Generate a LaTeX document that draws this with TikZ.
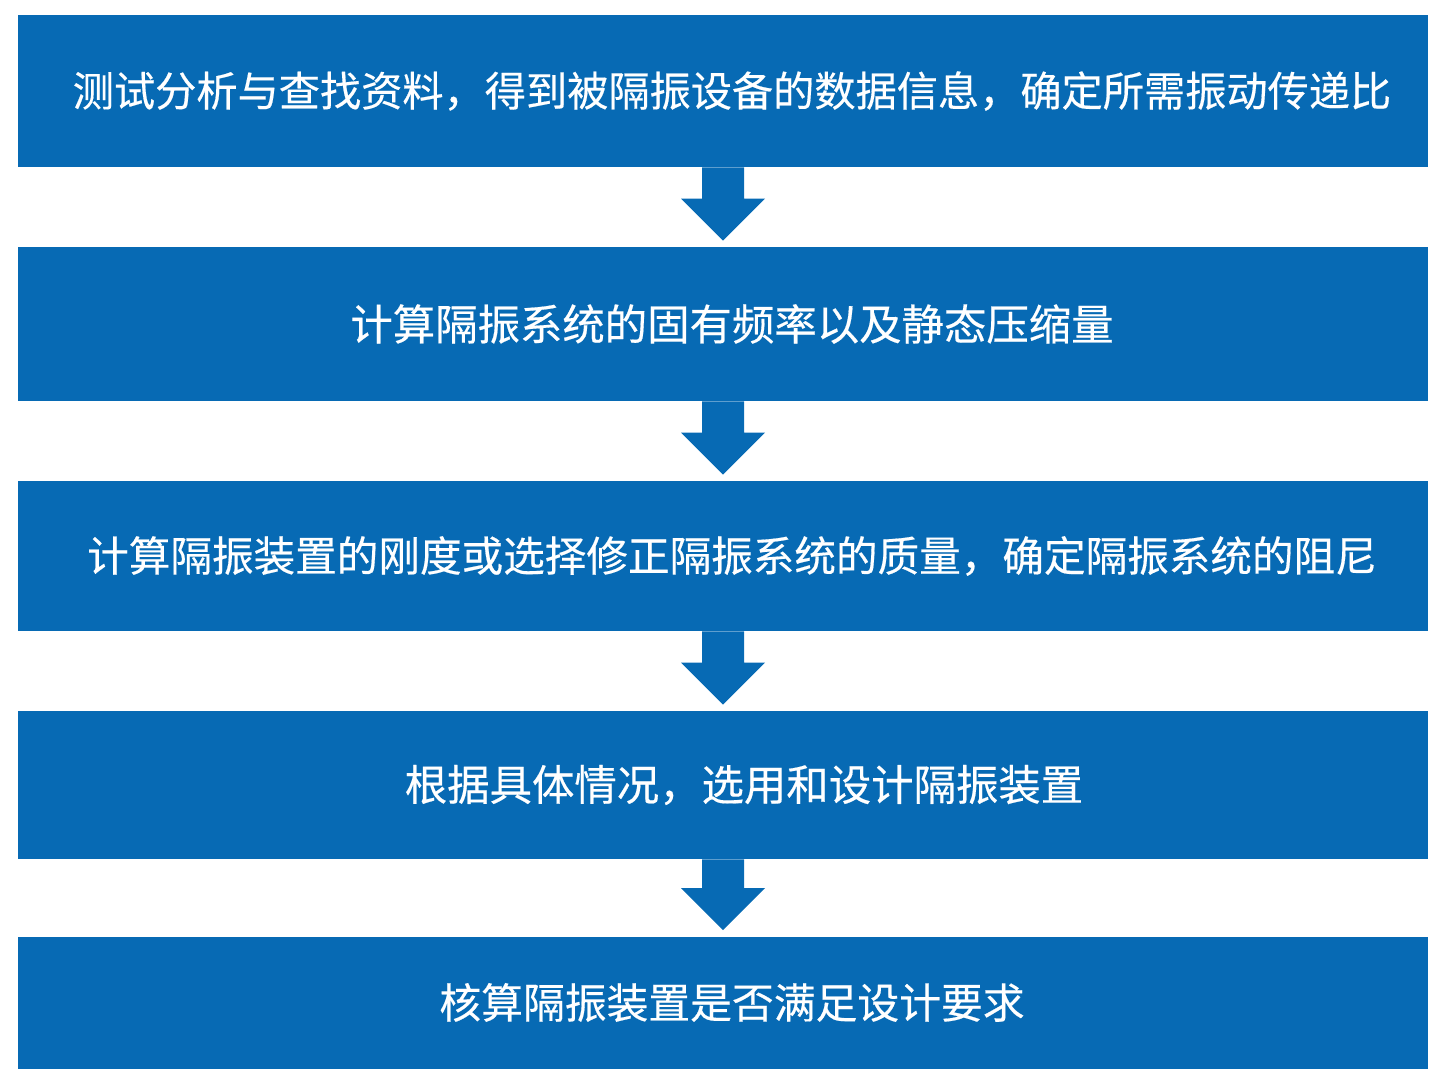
\documentclass[tikz,border=0pt]{standalone}
\usepackage{fontspec}
\newfontfamily\cjk[FakeBold=0.4]{Noto Sans CJK SC}
\usepackage{tikz}
\usetikzlibrary{calc}

\definecolor{stepblue}{RGB}{7,106,180}

\begin{document}
\begin{tikzpicture}[x=0.5pt, y=-0.5pt,
        stepbox/.style={fill=stepblue, text=white, inner sep=0pt,
            minimum width=705pt,
            font=\cjk\fontsize{21.2pt}{25pt}\selectfont,
            execute at begin node={\hspace*{9pt}}}]
        \useasboundingbox (0,0) rectangle (1448,1086);

        % the five steps
        \node[stepbox, minimum height=76pt, font=\cjk\fontsize{20.6pt}{25pt}\selectfont] (s1) at (723,91)
            {测试分析与查找资料，得到被隔振设备的数据信息，确定所需振动传递比};
        \node[stepbox, minimum height=77pt] (s2) at (723,324)
            {计算隔振系统的固有频率以及静态压缩量};
        \node[stepbox, minimum height=75pt, font=\cjk\fontsize{20.8pt}{25pt}\selectfont] (s3) at (723,556)
            {计算隔振装置的刚度或选择修正隔振系统的质量，确定隔振系统的阻尼};
        \node[stepbox, minimum height=74pt, execute at begin node={\hspace*{12pt}}] (s4) at (723,785)
            {根据具体情况，选用和设计隔振装置};
        \node[stepbox, minimum height=66pt, font=\cjk\fontsize{20.9pt}{25pt}\selectfont] (s5) at (723,1002.5)
            {核算隔振装置是否满足设计要求};

        % block arrows between the steps
        \foreach \a/\b in {s1/s2, s2/s3, s3/s4, s4/s5}
            \fill[stepblue] ($(\a.south)+(-21,0)$) -- ($(\a.south)+(21,0)$)
                -- ($(\b.north)+(21,-48)$) -- ($(\b.north)+(42,-48)$)
                -- ($(\b.north)+(0,-6)$) -- ($(\b.north)+(-42,-48)$)
                -- ($(\b.north)+(-21,-48)$) -- cycle;
    \end{tikzpicture}
\end{document}
